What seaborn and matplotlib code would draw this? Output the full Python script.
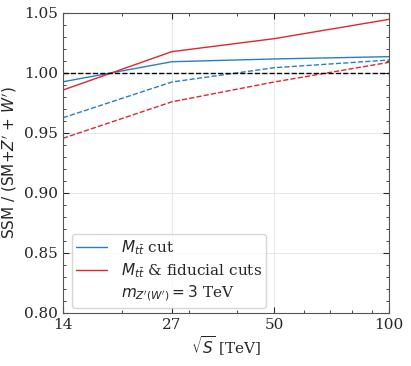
import numpy as np
import pandas as pd
import matplotlib
matplotlib.use("Agg")
import matplotlib.pyplot as plt
import seaborn as sns
from matplotlib.ticker import FixedLocator, NullFormatter, MultipleLocator, LogLocator

sqrt_s = [14, 27, 50, 100]
mtt_cut = [0.9927, 1.0094, 1.0117, 1.0136]
mtt_fid = [0.9858, 1.0178, 1.0286, 1.0447]
mtt_cut_dash = [0.9627, 0.9925, 1.0044, 1.0108]
mtt_fid_dash = [0.9456, 0.9760, 0.9925, 1.0089]
xtick_labels = ["14", "27", "50", "100"]

sns.set_style("ticks")
plt.rcParams.update({
    "font.family": ["DejaVu Serif"],
    "mathtext.fontset": "dejavusans",
    "xtick.direction": "in",
    "ytick.direction": "in",
    "xtick.top": True,
    "ytick.right": True,
    "axes.edgecolor": "#555555",
})

blue = "#2a7fc4"
red = "#e0262e"

df = pd.DataFrame({
    "x": sqrt_s * 4,
    "y": mtt_cut + mtt_fid + mtt_cut_dash + mtt_fid_dash,
    "series": ["cut"] * 4 + ["fid"] * 4 + ["cutd"] * 4 + ["fidd"] * 4,
})

fig = plt.figure(figsize=(4.11, 3.66), dpi=100)
ax = fig.add_axes([63 / 411, 1 - 313 / 366, (389 - 63) / 411, (313 - 13) / 366])

sns.lineplot(data=df[df.series == "cut"], x="x", y="y", color=blue, lw=1.0, ax=ax,
             label=r"$M_{t\bar{t}}$ cut")
sns.lineplot(data=df[df.series == "fid"], x="x", y="y", color=red, lw=1.0, ax=ax,
             label=r"$M_{t\bar{t}}$ & fiducial cuts")
sns.lineplot(data=df[df.series == "cutd"], x="x", y="y", color=blue, lw=1.0, ls="--", ax=ax)
sns.lineplot(data=df[df.series == "fidd"], x="x", y="y", color=red, lw=1.0, ls="--", ax=ax)
ax.plot([], [], " ", label=r"$m_{Z'(W')} = 3$ TeV")
ax.axhline(1.0, color="black", lw=1.0, ls="--")

ax.set_xscale("log")
ax.set_xlim(14, 100)
ax.set_ylim(0.80, 1.05)
ax.xaxis.set_major_locator(FixedLocator(sqrt_s))
ax.set_xticklabels(xtick_labels)
ax.xaxis.set_minor_locator(LogLocator(subs=np.arange(2, 10)))
ax.xaxis.set_minor_formatter(NullFormatter())
ax.yaxis.set_major_locator(MultipleLocator(0.05))
ax.yaxis.set_minor_locator(MultipleLocator(0.01))
ax.tick_params(labelsize=11, length=4, width=0.8)
ax.tick_params(which="minor", length=2, width=0.6)
ax.grid(True, which="major", color="#e2e2e2", lw=0.6)

ax.set_xlabel(r"$\sqrt{S}$ [TeV]", fontsize=11, labelpad=2)
ax.set_ylabel(r"SSM / (SM+$Z'$ + $W'$)", fontsize=11, family="DejaVu Sans")

leg = ax.legend(loc="lower left", bbox_to_anchor=(0.027, 0.018), fontsize=11, frameon=True,
                handlelength=2.0, labelspacing=0.25, borderpad=0.3, borderaxespad=0.0,
                handletextpad=0.9)
leg.get_frame().set_edgecolor("#cccccc")

fig.savefig("out.png", dpi=100)
